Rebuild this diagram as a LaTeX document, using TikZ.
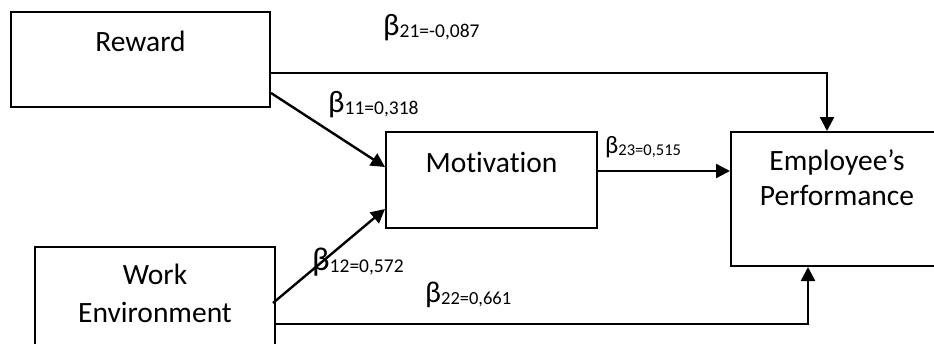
\documentclass[tikz,border=0pt]{standalone}
\usepackage{fontspec}
\setmainfont{Carlito}[Ligatures={NoCommon}]
\usetikzlibrary{arrows.meta}

\tikzset{
  box/.style={draw=black, line width=2pt, rectangle, inner sep=0pt},
  lbl/.style={inner sep=0pt, anchor=base, font=\fontsize{29.5}{31}\selectfont},
  coef/.style={inner sep=0pt, anchor=base west},
  arr/.style={draw=black, line width=2.4pt,
    -{Triangle[length=14pt, width=14pt]}},
}

% beta with a subscript: #1 beta size, #2 beta raise, #3 subscript size, #4 subscript text
\newcommand{\pathcoef}[4]{%
  {\fontsize{#1}{#1}\selectfont\raisebox{#2}{β}}{\fontsize{#3}{#3}\selectfont #4}}

\begin{document}
\begin{tikzpicture}[x=1pt, y=-1pt]
  \useasboundingbox (0,0) rectangle (934,343);
  \clip (0,0) rectangle (934,343);

  % construct boxes
  \node[box, minimum width=259pt, minimum height=95pt]  (rew)  at (140.5,59.5) {};
  \node[box, minimum width=211pt, minimum height=96pt]  (mot)  at (491.5,180) {};
  \node[box, minimum width=212pt, minimum height=134pt] (emp)  at (837,199) {};
  \node[box, minimum width=240pt, minimum height=123pt] (work) at (155,308.5) {};

  % box captions
  \node[lbl] (trew)  at (140.5,51) {Reward};
  \node[lbl] (tmot)  at (491.5,172) {Motivation};
  \node[lbl] (temp1) at (837,170) {Employee’s};
  \node[lbl] (temp2) at (837,205) {Performance};
  \node[lbl] (twk1)  at (155,284) {Work};
  \node[lbl] (twk2)  at (155,322) {Environment};

  % paths
  \draw[arr] (rew.east |- 0,73) -| (emp.north -| 827,0);
  \draw[arr] (rew.east |- 0,93) -- (mot.west |- 0,167);
  \draw[arr] (mot.east |- 0,171) -- (emp.west |- 0,171);
  \draw[arr] (work.east |- 0,324) -| (emp.south -| 808,0);
  \draw[arr] ([xshift=-3pt]work.east |- 0,303) -- (mot.west |- 0,209);

  % path coefficients
  \node[coef] (c21) at (383,37)  {\pathcoef{31}{2pt}{19.5}{21=-0,087}};
  \node[coef] (c11) at (328,114) {\pathcoef{31}{2pt}{19.5}{11=0,318}};
  \node[coef] (c23) at (605,155) {\pathcoef{25}{1.5pt}{16.5}{23=0,515}};
  \node[coef] (c12) at (312,272) {\pathcoef{33}{2pt}{19.5}{12=0,572}};
  \node[coef] (c22) at (425,304) {\pathcoef{30}{2pt}{18.5}{22=0,661}};
\end{tikzpicture}
\end{document}
